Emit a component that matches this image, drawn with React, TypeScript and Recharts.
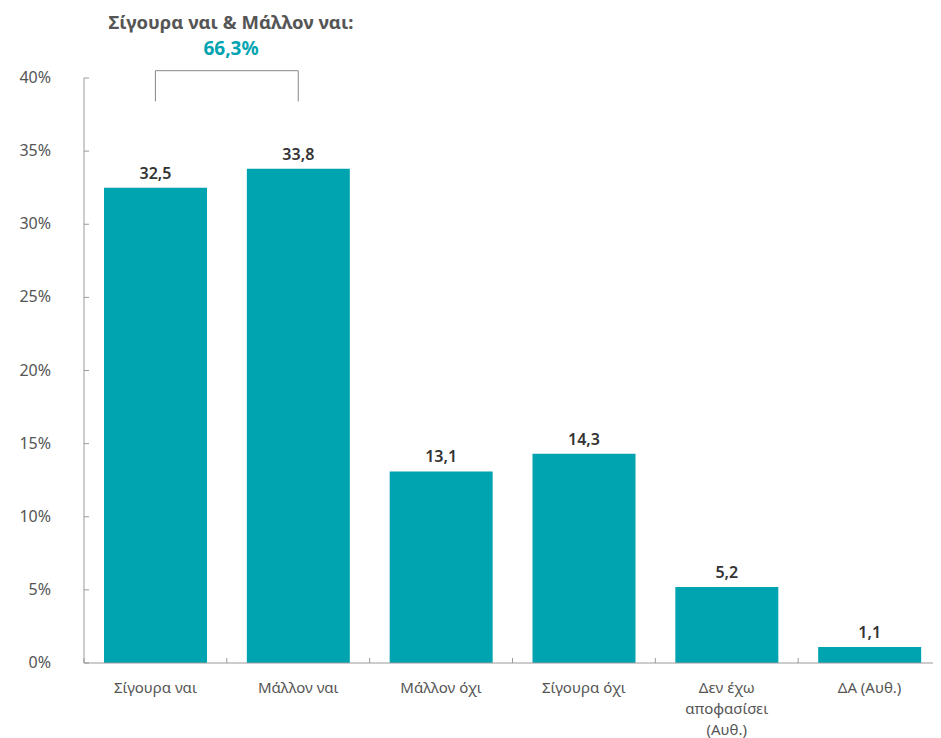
import React from 'react';
import { BarChart, Bar, XAxis, YAxis, LabelList, ReferenceLine } from 'recharts';

const categories = ['Σίγουρα ναι', 'Μάλλον ναι', 'Μάλλον όχι', 'Σίγουρα όχι', 'Δεν έχω αποφασίσει (Αυθ.)', 'ΔΑ (Αυθ.)'];
const values = [32.5, 33.8, 13.1, 14.3, 5.2, 1.1];
const tickLines = [['Σίγουρα ναι'], ['Μάλλον ναι'], ['Μάλλον όχι'], ['Σίγουρα όχι'], ['Δεν έχω', 'αποφασίσει', '(Αυθ.)'], ['ΔΑ (Αυθ.)']];
const yTicks = [0, 5, 10, 15, 20, 25, 30, 35, 40];
const annotationTitle = 'Σίγουρα ναι & Μάλλον ναι:';
const annotationValue = '66,3%';
const bracketLow = 38.4;
const bracketHigh = 40.5;

const data = categories.map((c, i) => ({ name: c, value: values[i] }));

const W = 933;
const H = 730;
const Y_W = 76;
const BAND = (W - Y_W) / categories.length;
const TEAL = '#00A4B1';
const AXIS = '#9a9a9a';
const TXT = '#555';
const FONT = '"Noto Sans", sans-serif';

const YTick = (props: any) => {
  const { x, y, payload } = props;
  return (
    <g>
      <line x1={x} x2={x + 5} y1={y} y2={y} stroke={AXIS} strokeWidth={1} />
      <text x={x - 33} y={y} dy={5} textAnchor="end" fill={TXT} fontSize={16} fontFamily={FONT}>
        {payload.value + '%'}
      </text>
    </g>
  );
};

const XTick = (props: any) => {
  const { x, y, index } = props;
  const lines = tickLines[index] || [];
  return (
    <g>
      <line x1={x - BAND / 2} x2={x - BAND / 2} y1={y} y2={y - 5} stroke={AXIS} strokeWidth={1} />
      {lines.map((l, i) => (
        <text key={i} x={x} y={y + 25 + i * 21} dy={5} textAnchor="middle" fill={TXT} fontSize={15} fontFamily={FONT}>
          {l}
        </text>
      ))}
    </g>
  );
};

export default function App() {
  return (
    <div style={{ position: 'relative', width: W, height: H }}>
      <BarChart width={W} height={H} data={data} margin={{ top: 70, right: 0, bottom: 0, left: 0 }} barCategoryGap="28%">
        <XAxis dataKey="name" interval={0} tickSize={0} tickMargin={0} tickLine={false} axisLine={{ stroke: AXIS }} height={75} tick={<XTick />} />
        <YAxis domain={[0, 40]} ticks={yTicks} width={Y_W} tickSize={0} tickMargin={0} tickLine={false} axisLine={{ stroke: AXIS }} tick={<YTick />} />
        <Bar dataKey="value" fill={TEAL} barSize={103} isAnimationActive={false}>
          <LabelList
            dataKey="value"
            position="top"
            offset={9}
            formatter={(v: any) => Number(v).toFixed(1).replace('.', ',')}
            fill="#333"
            fontSize={16}
            fontWeight={600}
            fontFamily={FONT}
          />
        </Bar>
        <ReferenceLine ifOverflow="visible" stroke="#888" segment={[{ x: categories[0], y: bracketLow }, { x: categories[0], y: bracketHigh }]} />
        <ReferenceLine ifOverflow="visible" stroke="#888" segment={[{ x: categories[1], y: bracketLow }, { x: categories[1], y: bracketHigh }]} />
        <ReferenceLine ifOverflow="visible" stroke="#888" segment={[{ x: categories[0], y: bracketHigh }, { x: categories[1], y: bracketHigh }]} />
      </BarChart>
      <div style={{ position: 'absolute', left: 223 - 150, top: 1, width: 300, textAlign: 'center', fontFamily: FONT, fontWeight: 700, lineHeight: '26px' }}>
        <div style={{ color: '#555', fontSize: 18.5 }}>{annotationTitle}</div>
        <div style={{ color: TEAL, fontSize: 19 }}>{annotationValue}</div>
      </div>
    </div>
  );
}
